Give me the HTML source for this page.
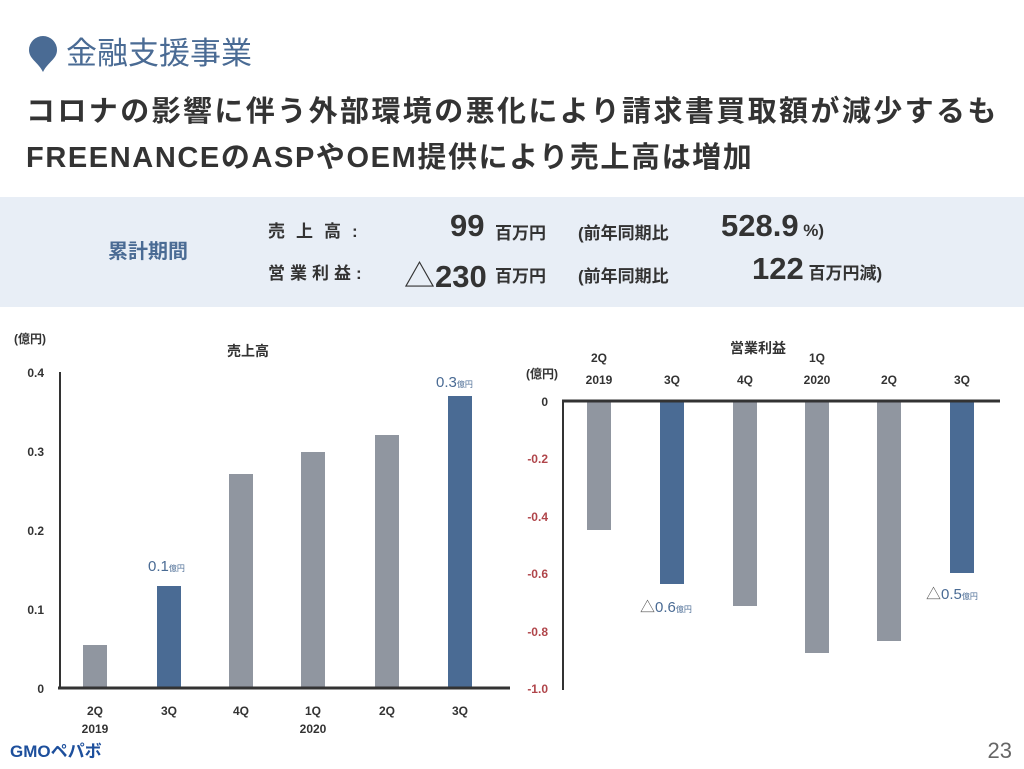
<!DOCTYPE html><html><head><meta charset="utf-8"><style>
body{margin:0;width:1024px;height:769px;background:#fff;position:relative;overflow:hidden;font-family:"Liberation Sans","Noto Sans CJK JP",sans-serif;color:#333}
.a{position:absolute;white-space:nowrap}
.b{font-weight:bold}
</style></head><body>
<svg class="a" style="left:26px;top:34px" width="34" height="40"><path d="M17 2a14 14 0 0 1 14 14c0 9-9 12-14 22c-5-10-14-13-14-22A14 14 0 0 1 17 2z" fill="#4a6b94"/></svg>
<div class="a" style="left:66px;top:28px;font-size:31px;color:#4a6b94">金融支援事業</div>
<div class="a b" style="left:26px;top:88px;font-size:29px;letter-spacing:2.4px;color:#333">コロナの影響に伴う外部環境の悪化により請求書買取額が減少するも</div>
<div class="a b" style="left:26px;top:134px;font-size:29px;letter-spacing:1.6px;color:#333">FREENANCEのASPやOEM提供により売上高は増加</div>
<div class="a" style="left:0;top:197px;width:1024px;height:110px;background:#e8eef6"></div>
<div class="a b" style="left:108px;top:235px;font-size:20px;color:#4a6b94">累計期間</div>
<div class="a b" style="left:268px;top:217px;font-size:17px;letter-spacing:11px">売上高:</div>
<div class="a b" style="left:268px;top:259px;font-size:17px;letter-spacing:5px">営業利益:</div>
<div class="a b" style="left:450px;top:208px;font-size:31px">99</div>
<div class="a b" style="left:404px;top:251px;font-size:31px"><span style="font-weight:normal">△</span>230</div>
<div class="a b" style="left:495px;top:219px;font-size:17px">百万円</div>
<div class="a b" style="left:495px;top:262px;font-size:17px">百万円</div>
<div class="a b" style="left:578px;top:219px;font-size:17px">(前年同期比</div>
<div class="a b" style="left:578px;top:262px;font-size:17px">(前年同期比</div>
<div class="a b" style="left:721px;top:208px;font-size:31px">528.9<span style="font-size:17px"> %)</span></div>
<div class="a b" style="left:752px;top:251px;font-size:31px">122<span style="font-size:17px"> 百万円減)</span></div>
<svg class="a" style="left:0;top:0" width="1024" height="769" font-family="Liberation Sans,Noto Sans CJK JP,sans-serif" font-weight="bold">
<text x="14" y="343" font-size="12" fill="#333">(億円)</text>
<text x="248" y="356" font-size="14" text-anchor="middle" fill="#333">売上高</text>
<g font-size="12" fill="#333" text-anchor="end"><text x="44" y="377">0.4</text><text x="44" y="456">0.3</text><text x="44" y="535">0.2</text><text x="44" y="614">0.1</text><text x="44" y="693">0</text></g>
<line x1="60" y1="372" x2="60" y2="688" stroke="#333" stroke-width="2"/>
<g fill="#9096a0"><rect x="83" y="645" width="24" height="43"/><rect x="229" y="474" width="24" height="214"/><rect x="301" y="452" width="24" height="236"/><rect x="375" y="435" width="24" height="253"/></g>
<g fill="#4a6b94"><rect x="157" y="586" width="24" height="102"/><rect x="448" y="396" width="24" height="292"/></g>
<line x1="58" y1="688" x2="510" y2="688" stroke="#333" stroke-width="3"/>
<g font-size="12" fill="#333" text-anchor="middle"><text x="95" y="715">2Q</text><text x="95" y="733">2019</text><text x="169" y="715">3Q</text><text x="241" y="715">4Q</text><text x="313" y="715">1Q</text><text x="313" y="733">2020</text><text x="387" y="715">2Q</text><text x="460" y="715">3Q</text></g>
<g fill="#4a6b94" font-weight="normal"><text x="148" y="571" font-size="15">0.1<tspan font-size="8">億円</tspan></text><text x="436" y="387" font-size="15">0.3<tspan font-size="8">億円</tspan></text>
<text x="640" y="612" font-size="15" fill="#555">△<tspan fill="#4a6b94">0.6</tspan><tspan font-size="8" fill="#4a6b94">億円</tspan></text><text x="926" y="599" font-size="15" fill="#555">△<tspan fill="#4a6b94">0.5</tspan><tspan font-size="8" fill="#4a6b94">億円</tspan></text></g>
<text x="758" y="353" font-size="14" text-anchor="middle" fill="#333">営業利益</text>
<text x="526" y="378" font-size="12" fill="#333">(億円)</text>
<g font-size="12" fill="#333" text-anchor="middle"><text x="599" y="362">2Q</text><text x="599" y="384">2019</text><text x="672" y="384">3Q</text><text x="745" y="384">4Q</text><text x="817" y="362">1Q</text><text x="817" y="384">2020</text><text x="889" y="384">2Q</text><text x="962" y="384">3Q</text></g>
<g font-size="12" text-anchor="end" fill="#b0454a"><text x="548" y="406" fill="#333">0</text><text x="548" y="463">-0.2</text><text x="548" y="521">-0.4</text><text x="548" y="578">-0.6</text><text x="548" y="636">-0.8</text><text x="548" y="693">-1.0</text></g>
<line x1="563" y1="401" x2="563" y2="690" stroke="#333" stroke-width="2"/>
<g fill="#9096a0"><rect x="587" y="401" width="24" height="129"/><rect x="733" y="401" width="24" height="205"/><rect x="805" y="401" width="24" height="252"/><rect x="877" y="401" width="24" height="240"/></g>
<g fill="#4a6b94"><rect x="660" y="401" width="24" height="183"/><rect x="950" y="401" width="24" height="172"/></g>
<line x1="562" y1="401" x2="1000" y2="401" stroke="#333" stroke-width="3"/>
<text x="10" y="757" font-size="17" fill="#1d4f9c">GMO<tspan fill="#1d4f9c">ペパボ</tspan></text>
<text x="1012" y="758" font-size="22" font-weight="normal" fill="#666" text-anchor="end">23</text>
</svg>
</body></html>
